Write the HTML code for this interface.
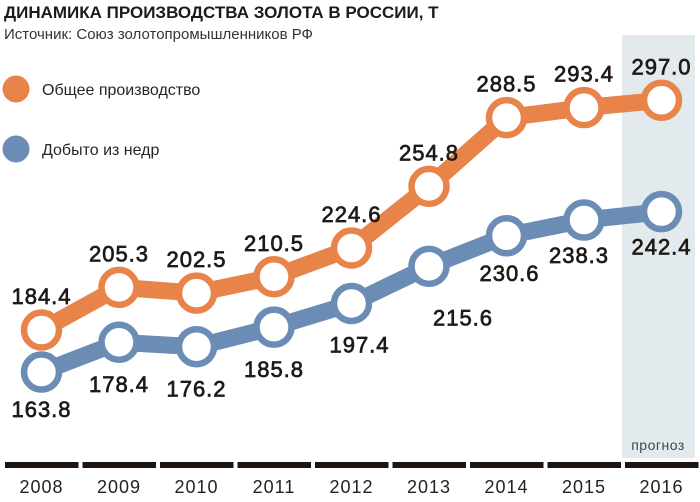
<!DOCTYPE html>
<html><head><meta charset="utf-8"><style>
body{margin:0;background:#fff;}
svg text{font-family:"Liberation Sans","DejaVu Sans",sans-serif;}
</style></head><body>
<svg width="700" height="497" viewBox="0 0 700 497">
<rect x="622" y="35" width="73" height="423" fill="#e3eaee"/>
<text x="4" y="18" font-size="17" font-weight="bold" fill="#1e1a17">ДИНАМИКА ПРОИЗВОДСТВА ЗОЛОТА В РОССИИ, Т</text>
<text x="4" y="39" font-size="15" fill="#333">Источник: Союз золотопромышленников РФ</text>
<circle cx="16" cy="89" r="13.5" fill="#e8834a"/>
<text x="42" y="95" font-size="16" fill="#2a2522">Общее производство</text>
<circle cx="16" cy="149" r="13.5" fill="#6b8db5"/>
<text x="42" y="155" font-size="16" fill="#2a2522">Добыто из недр</text>
<text x="658" y="450" font-size="14" fill="#444" text-anchor="middle" letter-spacing="0.5">прогноз</text>
<g id="plot"></g>
</svg>
<script>
const years=["2008","2009","2010","2011","2012","2013","2014","2015","2016"];
const total=[184.4,205.3,202.5,210.5,224.6,254.8,288.5,293.4,297.0];
const mined=[163.8,178.4,176.2,185.8,197.4,215.6,230.6,238.3,242.4];
const totalLabels=["184.4","205.3","202.5","210.5","224.6","254.8","288.5","293.4","297.0"];
const minedLabels=["163.8","178.4","176.2","185.8","197.4","215.6","230.6","238.3","242.4"];
const NS="http://www.w3.org/2000/svg";
const g=document.getElementById('plot');
function x(i){return 41.5+i*77.5;}
function y(v){return 330-(v-184.4)*2.04;}
function mk(t,a){const e=document.createElementNS(NS,t);for(const k in a)e.setAttribute(k,a[k]);g.appendChild(e);return e;}
years.forEach((yr,i)=>{
  const r=mk('rect',{x:5+i*77.5,y:462,width:73.5,height:6,fill:'#1e1410'});
  
  
  const t=mk('text',{x:x(i),y:493,'font-size':18,fill:'#222','text-anchor':'middle','letter-spacing':1});
  t.textContent=yr;
  
  
});
const minedOff=[[0,45],[0,50],[0,50],[0,50],[8,49],[34,59],[3,45],[-5,43],[0,43]];
function series(vals,labels,color,name,above){
  const pts=vals.map((v,i)=>x(i)+','+y(v)).join(' ');
  const pl=mk('polyline',{points:pts,fill:'none',stroke:color,'stroke-width':17,'stroke-linejoin':'round'});
  
  
  vals.forEach((v,i)=>{
    const c=mk('circle',{cx:x(i),cy:y(v),r:17.5,fill:'#fff',stroke:color,'stroke-width':6.5});
    
    
    let dx=0,dy=-26;
    if(!above){dx=minedOff[i][0];dy=minedOff[i][1];}
    const t=mk('text',{x:x(i)+dx,y:y(v)+dy,'font-size':22,fill:'#1e1a17',stroke:'#1e1a17','stroke-width':0.7,'text-anchor':'middle','letter-spacing':1});
    t.textContent=labels[i];
    
    
  });
}
series(mined,minedLabels,'#6b8db5','mined',false);
series(total,totalLabels,'#e8834a','total',true);
</script>
</body></html>
